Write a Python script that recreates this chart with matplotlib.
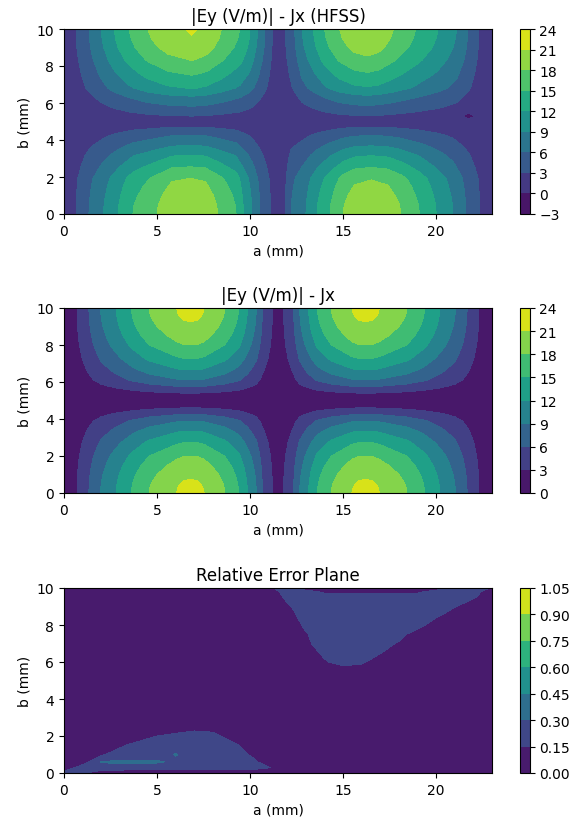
import numpy as np
import matplotlib
matplotlib.use('Agg')
import matplotlib.pyplot as plt

# |Ey| analytic (Jx source): profile along a at b=0, profile along b at the peak
a_an = [0, 0.70, 1.34, 1.97, 2.81, 3.63, 4.58, 6.05, 6.4, 6.8, 7.2, 7.53, 8.63, 9.38, 9.85,
        10.33, 10.66, 11.2, 11.5, 11.8, 12.34, 12.67, 13.15, 13.62, 14.37, 15.47, 15.8, 16.2,
        16.6, 16.95, 18.42, 19.37, 20.19, 21.03, 21.66, 22.3, 23]
ey_a_an = [0, 3, 6, 9, 12, 15, 18, 21, 21.45, 21.6, 21.45, 21, 18, 15, 12, 9, 6, 3, 0,
           3, 6, 9, 12, 15, 18, 21, 21.45, 21.6, 21.45, 21, 18, 15, 12, 9, 6, 3, 0]
b_an = [0, 0.25, 0.5, 0.75, 1.0, 1.5, 2.0, 2.74, 3.35, 3.89, 4.25, 4.6, 5.0,
        5.4, 5.75, 6.11, 6.65, 7.26, 8.0, 8.5, 9.0, 9.25, 9.5, 9.75, 10]
ey_b_an = [1, 0.997, 0.988, 0.972, 0.955, 0.90, 0.833, 0.694, 0.556, 0.417, 0.278, 0.139, 0,
           0.139, 0.278, 0.417, 0.556, 0.694, 0.833, 0.90, 0.955, 0.972, 0.988, 0.997, 1]

# |Ey| HFSS: lower lobes (read at b=0) and upper lobes (read at b=10)
a_hfss_low = [0, 0.65, 1.34, 2.13, 2.92, 3.7, 5.0, 5.8, 6.8, 7.6, 8.26, 9.25, 9.64, 10.1, 10.53,
              11.1, 11.6, 11.9, 12.2, 13.0, 13.6, 14.3, 15.0, 15.6, 16.5, 17.4, 18.1, 19.1, 20.0,
              20.9, 21.6, 22.35, 23]
ey_hfss_low = [0.4, 3, 6, 9, 12, 15, 18, 20.1, 20.5, 20.1, 18, 15, 12, 9, 6,
               3, 0.4, 3, 6, 9, 12, 15, 18, 19.7, 20.3, 19.7, 18, 15, 12,
               9, 6, 3, 0.4]
b_hfss_low = [0, 0.5, 1.0, 1.5, 1.93, 2.55, 3.18, 3.7, 4.25, 4.7, 5.1]
g_hfss_low = [1, 0.99, 0.96, 0.92, 0.878, 0.732, 0.585, 0.439, 0.293, 0.146, 0.03]

a_hfss_up = [0, 0.65, 1.34, 2.0, 2.7, 3.5, 4.5, 5.6, 6.55, 6.85, 7.15, 7.7, 8.46, 9.45, 10.0,
             10.4, 10.8, 11.2, 11.55, 11.9, 12.4, 12.8, 13.4, 14.0, 14.8, 15.6, 16.3, 16.9,
             17.7, 18.9, 20.1, 21.1, 21.7, 22.3, 23]
ey_hfss_up = [0.4, 3, 6, 9, 12, 15, 18, 20.2, 21, 21.3, 21, 20.2, 18, 15, 12,
              9, 6, 3, 0.4, 3, 6, 9, 12, 15, 18, 19.9, 20.5, 19.9,
              18, 15, 12, 9, 6, 3, 0.4]
b_hfss_up = [5.1, 5.29, 5.82, 6.36, 6.8, 7.53, 8.33, 9.0, 9.5, 10.0]
g_hfss_up = [0.03, 0.14, 0.28, 0.42, 0.57, 0.71, 0.85, 0.94, 0.98, 1.0]
# small negative spot near a=21.7, b=5.3
spot_a, spot_b, spot_val = 21.7, 5.29, -0.8

# relative error (x100), columns a = 0..23, rows b below
a_err = list(range(24))
b_err = [0, 0.3, 0.6, 1.0, 1.5, 2.0, 2.5, 3.0, 4.0, 5.0, 5.5, 6.0, 6.5, 7.0, 7.5,
         8.0, 8.5, 9.0, 9.5, 9.8, 10.0]
err_rows = [
    "20 18  5  5  5  5  5  5  5  5  5  5  5  5  5  5  5  5  5  5  5  5  5  5",
    " 5 22 25 24 22 22 22 22 22 22 22 16  5  5  5  5  5  5  5  5  5  5  5  5",
    " 5  8 31 32 32 32 27 22 22 22 22  5  5  5  5  5  5  5  5  5  5  5  5  5",
    " 5  5 13 22 22 22 31 22 22 22 14  5  5  5  5  5  5  5  5  5  5  5  5  5",
    " 5  5  5 12 22 22 22 22 22 22  5  5  5  5  5  5  5  5  5  5  5  5  5  5",
    " 5  5  5  5  5 15 19 27 22  5  5  5  5  5  5  5  5  5  5  5  5  5  5  5",
    " 5  5  5  5  5  5  5  5  5  5  5  5  5  5  5  5  5  5  5  5  5  5  5  5",
    " 5  5  5  5  5  5  5  5  5  5  5  5  5  5  5  5  5  5  5  5  5  5  5  5",
    " 5  5  5  5  5  5  5  5  5  5  5  5  5  5  5  5  5  5  5  5  5  5  5  5",
    " 5  5  5  5  5  5  5  5  5  5  5  5  5  5  5  5  5  5  5  5  5  5  5  5",
    " 5  5  5  5  5  5  5  5  5  5  5  5  5  5  5  5  5  5  5  5  5  5  5  5",
    " 5  5  5  5  5  5  5  5  5  5  5  5  5  5 13 22 18  5  5  5  5  5  5  5",
    " 5  5  5  5  5  5  5  5  5  5  5  5  5  5 19 22 22 16  5  5  5  5  5  5",
    " 5  5  5  5  5  5  5  5  5  5  5  5  5 12 22 22 22 22 13  5  5  5  5  5",
    " 5  5  5  5  5  5  5  5  5  5  5  5  5 14 22 22 22 22 22  5  5  5  5  5",
    " 5  5  5  5  5  5  5  5  5  5  5  5  5 18 22 22 22 22 22 22  5  5  5  5",
    " 5  5  5  5  5  5  5  5  5  5  5  5  8 22 22 22 22 22 22 22 18  5  5  5",
    " 5  5  5  5  5  5  5  5  5  5  5  5 13 22 22 22 22 22 22 22 22 16  5  5",
    " 5  5  5  5  5  5  5  5  5  5  5  5 18 22 22 22 22 22 22 22 22 22 17  5",
    " 5  5  5  5  5  5  5  5  5  5  5  5 23 22 12 12 12 12 12 12 22 22 22  5",
    " 5  5  5  5  5  5  5  5  5  5  5 12 22  5  5  5  5  5  5  5  5 22 22 14",
]

Z_an = np.outer(ey_b_an, ey_a_an)
Z_low = np.outer(g_hfss_low, ey_hfss_low)
Z_up = np.outer(g_hfss_up, ey_hfss_up)
Z_up[b_hfss_up.index(spot_b), a_hfss_up.index(spot_a)] = spot_val
Z_err = np.array([[int(v) for v in r.split()] for r in err_rows]) / 100.0

fig = plt.figure(figsize=(5.77, 8.28), dpi=100)
left, width = 64 / 577, 428 / 577
cb_left, cb_width = 519.5 / 577, 10 / 577
height = 185 / 828
bottoms = [1 - 215 / 828, 1 - 494 / 828, 1 - 774 / 828]

# panel 1: HFSS
lv1 = np.arange(-3, 25, 3)
ax1 = fig.add_axes([left, bottoms[0], width, height])
cs1 = ax1.contourf(a_hfss_low, b_hfss_low, Z_low, levels=lv1, cmap='viridis')
ax1.contourf(a_hfss_up, b_hfss_up, Z_up, levels=lv1, cmap='viridis')
ax1.set_xlim(0, 23)
ax1.set_ylim(0, 10)
ax1.set_title('|Ey (V/m)| - Jx (HFSS)')
ax1.set_xlabel('a (mm)')
ax1.set_ylabel('b (mm)')
fig.colorbar(cs1, cax=fig.add_axes([cb_left, bottoms[0], cb_width, height]))

# panel 2: analytic
lv2 = np.arange(0, 25, 3)
ax2 = fig.add_axes([left, bottoms[1], width, height])
cs2 = ax2.contourf(a_an, b_an, Z_an, levels=lv2, cmap='viridis')
ax2.set_title('|Ey (V/m)| - Jx')
ax2.set_xlabel('a (mm)')
ax2.set_ylabel('b (mm)')
fig.colorbar(cs2, cax=fig.add_axes([cb_left, bottoms[1], cb_width, height]))

# panel 3: relative error
lv3 = np.linspace(0, 1.05, 8)
ax3 = fig.add_axes([left, bottoms[2], width, height])
cs3 = ax3.contourf(a_err, b_err, Z_err, levels=lv3, cmap='viridis')
ax3.set_xlim(0, 23)
ax3.set_title('Relative Error Plane')
ax3.set_xlabel('a (mm)')
ax3.set_ylabel('b (mm)')
fig.colorbar(cs3, cax=fig.add_axes([cb_left, bottoms[2], cb_width, height]))

fig.savefig('out.png', dpi=100)
